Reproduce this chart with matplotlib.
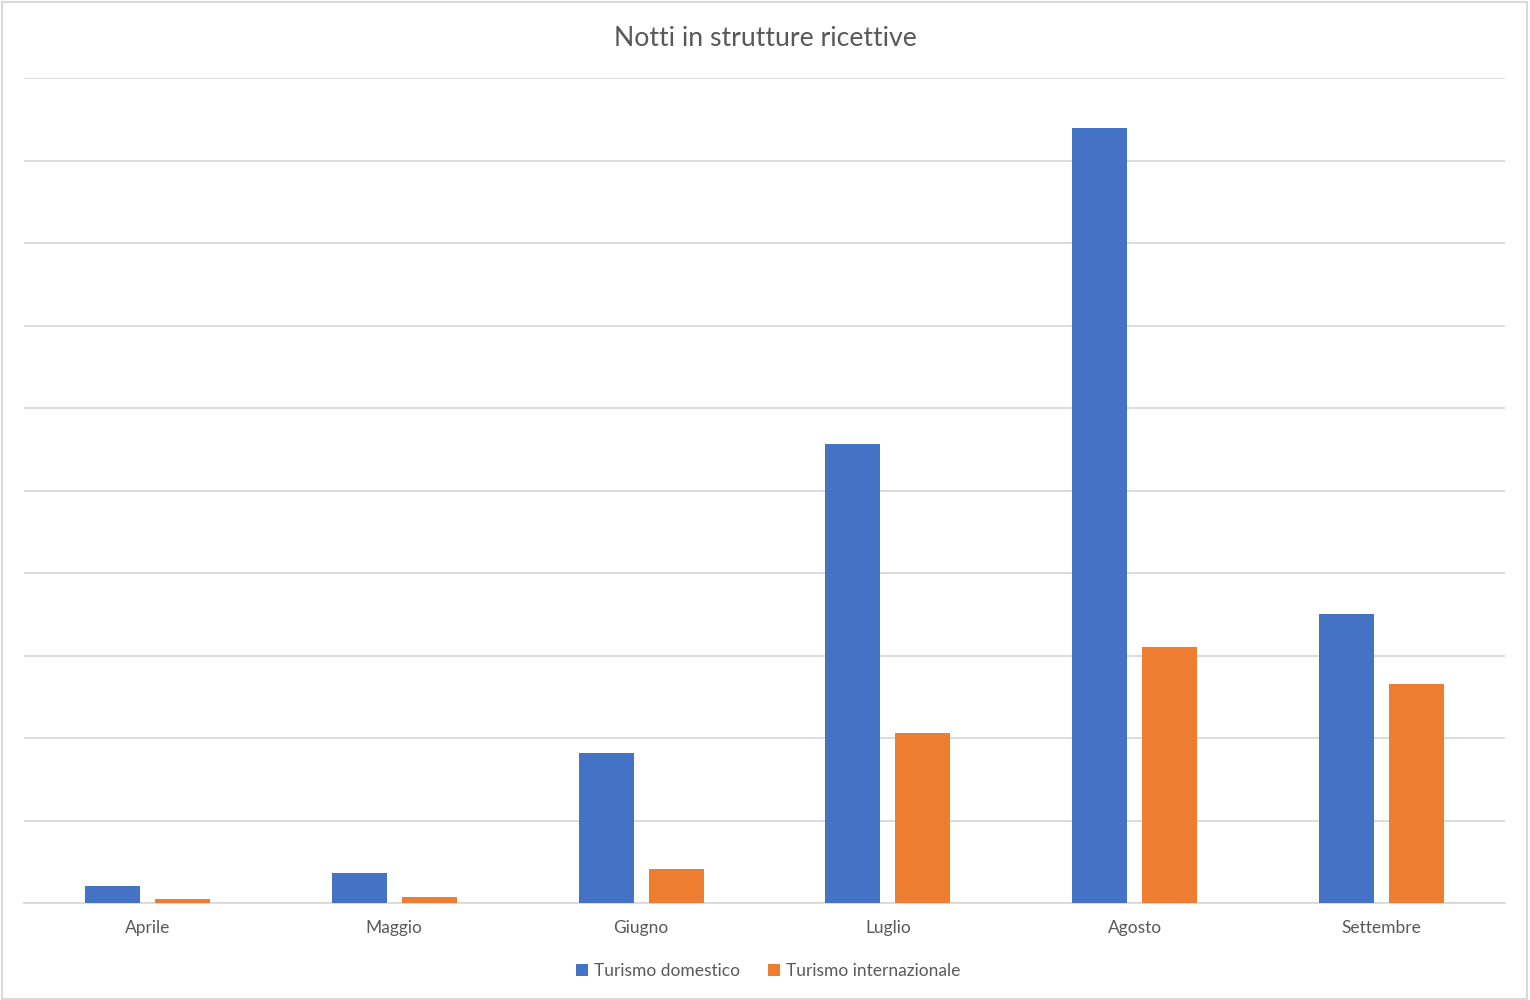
import matplotlib
matplotlib.use("Agg")
import matplotlib.pyplot as plt
import numpy as np
from matplotlib.patches import Rectangle

months = ["Aprile", "Maggio", "Giugno", "Luglio", "Agosto", "Settembre"]
domestico = [0.21, 0.36, 1.82, 5.56, 9.39, 3.50]
internazionale = [0.05, 0.07, 0.41, 2.06, 3.10, 2.65]
series_names = ["Turismo domestico", "Turismo internazionale"]
title = "Notti in strutture ricettive"

plt.rcParams['font.family'] = ['Lato', 'DejaVu Sans']
txt = '#595959'
grid = '#d9d9d9'

fig = plt.figure(figsize=(15.3, 10), dpi=100)
ax = fig.add_axes([24/1530, 0.097, 1481/1530, 0.825])
x = np.arange(len(months))
w = 0.223
off = 0.142
b1 = ax.bar(x - off, domestico, w, color='#4472C4', label=series_names[0], zorder=3)
b2 = ax.bar(x + off, internazionale, w, color='#ED7D31', label=series_names[1], zorder=3)
ax.set_xlim(-0.5, len(months) - 0.5)
ax.set_ylim(0, 10)
ax.set_yticks(np.arange(0, 11, 1))
ax.yaxis.grid(True, color=grid, linewidth=1.3, zorder=0)
ax.set_yticklabels([])
ax.tick_params(axis='y', length=0)
ax.tick_params(axis='x', length=0, labelsize=12.5, labelcolor=txt, pad=12)
ax.set_xticks(x)
ax.set_xticklabels(months)
for s in ['top', 'right', 'left']:
    ax.spines[s].set_visible(False)
ax.spines['bottom'].set_color(grid)
ax.spines['bottom'].set_linewidth(1.3)

fig.text(0.5, 0.961, title, ha='center', va='center', fontsize=19.2, color=txt)
leg = fig.legend(handles=[b1, b2], loc='center', bbox_to_anchor=(0.502, 0.029), ncol=2,
                 frameon=False, fontsize=12.5, handlelength=0.7, handleheight=0.7,
                 handletextpad=0.35, columnspacing=1.6, labelcolor=txt)
fig.patches.append(Rectangle((0.001, 0.001), 0.997, 0.997, transform=fig.transFigure,
                             fill=False, edgecolor=grid, linewidth=1.5))
fig.savefig('out.png', dpi=100)
